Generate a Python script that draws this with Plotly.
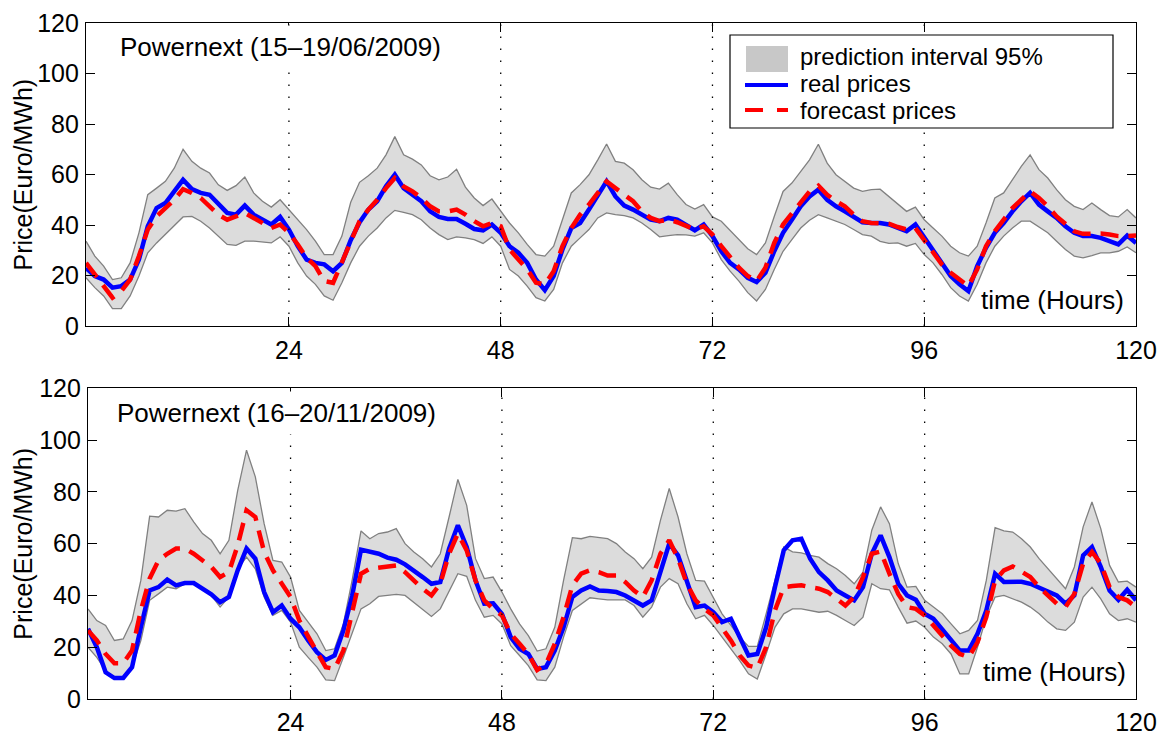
import plotly.graph_objects as go

hours = list(range(1, 121))
x_ticks = [24, 48, 72, 96, 120]
y_ticks = [0, 20, 40, 60, 80, 100, 120]
day_lines = [24, 48, 72, 96]

# ---- Panel 1: Powernext 15-19/06/2009 ----
real_jun = [23, 19.8, 18.4, 15.2, 15.8, 18.4, 26.3, 39.5, 46.7, 48.7, 53.3, 57.9, 54.2, 52.7, 52, 48.7, 44.8, 44.1, 47.7, 44.1,
            41.9, 40.2, 43.2, 38.2, 31.6, 26.3, 25, 24.4, 21.7, 25, 34, 41, 46.1, 49.4, 55.3, 59.9, 54.6, 52, 49.4, 45.4,
            43.2, 42.4, 42.4, 40.5, 38.4, 37.9, 40.2, 36.9, 31.6, 29, 25, 18.4, 14.2, 19.8, 30.3, 38.8, 40.8, 46.1, 51.3, 57.3,
            51.3, 47.7, 46.1, 44.1, 42.1, 41.5, 42.8, 42.1, 40.2, 37.9, 40.2, 35.6, 29.6, 25, 22.4, 19.1, 17.4, 21.1, 29.6, 36.9,
            42.1, 47.4, 51.3, 54, 50, 47.4, 45.4, 43.2, 41.1, 40.8, 40.8, 40.2, 38.8, 37.5, 40.2, 34.9, 29.6, 25, 19.8, 16.5,
            13.8, 23.7, 31, 36.9, 40.8, 45.4, 49.4, 52.7, 48.1, 45.4, 42.8, 39.5, 36.9, 35.6, 35.6, 34.9, 33.6, 32.3, 35.8, 32.9]
fcst_jun = [25, 20.4, 15.2, 11.2, 13.8, 18.4, 27.7, 38.2, 43.4, 46.7, 50, 54.2, 52.7, 50.7, 47.4, 44.1, 42.1, 43.4, 44.8, 42.8,
            40.8, 38.8, 40.2, 36.9, 32.3, 27, 23.7, 17.8, 17.1, 25, 33, 41.5, 46.1, 50, 54.6, 58.6, 55.3, 53.3, 50.7, 47.4,
            45.4, 45.4, 46.1, 44.1, 41.5, 39.5, 40.8, 39.5, 30.3, 26.3, 22.4, 17.1, 16.5, 21.7, 31.6, 38.8, 44.1, 48.1, 52.7, 57.3,
            54.6, 52, 49.4, 45.4, 42.8, 41.5, 42.1, 41.1, 39.5, 38.2, 39.5, 36.2, 31.6, 27, 23.1, 19.8, 17.8, 23.1, 32.9, 40.2,
            44.8, 49.4, 53.3, 55.6, 52, 49.4, 47.4, 44.1, 41.5, 40.8, 40.8, 40.5, 39.2, 38.2, 38.8, 34.2, 29, 24.4, 21.1, 18.4,
            15.8, 22.4, 31.6, 37.5, 42.1, 46.7, 50, 53.3, 50.7, 47.4, 43.4, 40.2, 37.5, 36.5, 36.6, 36.6, 36.2, 35.6, 35.6, 35.8]
upper_jun = [33.6, 27.7, 23.7, 18.4, 19.1, 25, 36.9, 52, 54.6, 57.3, 62.5, 70, 65.2, 62.5, 60.6, 55.9, 53.7, 55.6, 59, 52.7,
             49.4, 47.1, 50, 46.1, 42.1, 38.2, 33.6, 28.3, 28.3, 35.6, 49, 56.9, 59.5, 62.5, 67.8, 75, 67.8, 66.1, 63.8, 59.5,
             57.9, 59, 62.1, 55, 50.7, 47.7, 50.3, 45.4, 40.8, 36.9, 32.3, 28.3, 27.7, 31.6, 42.1, 52.7, 56, 59.9, 65.8, 72.1,
             65.2, 64.5, 61.9, 57.9, 55, 54.2, 56.6, 52, 48.1, 46.3, 48.1, 43.2, 41.5, 37.9, 34.2, 30.6, 28.3, 32.9, 43.4, 53.3,
             56.6, 61.2, 65.8, 72, 64.5, 59.9, 57.3, 54.6, 53.3, 54, 54.2, 51.3, 48.4, 45.4, 47.1, 42.1, 38.8, 35.6, 31.6, 29,
             27.7, 31.6, 40.8, 50.7, 52.7, 57.9, 63.2, 67.8, 61.9, 58.6, 54, 50, 47.4, 46.1, 48.7, 46.1, 43.7, 43.2, 46.1, 42.8]
lower_jun = [19.1, 15.2, 11.9, 6.9, 6.9, 11.9, 19.8, 29, 32.9, 36.2, 39.5, 43.2, 43.4, 41.5, 38.8, 35.6, 32.3, 31.9, 33.6, 33.6,
             33.2, 32.9, 35.3, 31.6, 25, 19.8, 16.5, 11.9, 10.2, 17.1, 25, 31.6, 35.6, 38.8, 42.8, 45.8, 45, 44.1, 42.1, 38.8,
             36.2, 34.2, 35.3, 34.9, 34.2, 32.7, 35.3, 31.6, 22.4, 19.8, 15.8, 11.2, 9.9, 14.5, 25, 31.6, 34.9, 38.2, 42.8, 44.8,
             44.1, 43.7, 42.8, 40.8, 38.2, 35.3, 35.8, 36.2, 36.1, 35.6, 36.9, 32.9, 26.3, 21.7, 17.8, 13.2, 9.9, 14.5, 22.4, 29.6,
             34.2, 38.8, 41.9, 44.1, 42.8, 41.5, 40.2, 38.2, 36.2, 35.6, 33.5, 32.7, 32.9, 31.6, 32.7, 28.3, 25, 20.4, 15.2, 11.9,
             9.9, 16.5, 25, 31.6, 35.6, 38.8, 41.5, 41.5, 39.2, 36.9, 33.6, 30.3, 27.7, 27, 27.9, 29, 29, 29.6, 31.3, 29]

# ---- Panel 2: Powernext 16-20/11/2009 ----
real_nov = [27.1, 20, 10.3, 8.1, 8.1, 12.3, 27.7, 41.9, 43.2, 46.1, 43.9, 44.8, 44.8, 42.6, 40.4, 37.4, 39.4, 49.7, 58.1, 54.2,
            41.3, 33.5, 36.1, 31, 27.7, 22.6, 18.1, 15.1, 16.8, 26.5, 40, 57.7, 56.8, 56.1, 54.6, 53.8, 52, 49.7, 47.1, 44.5,
            45.2, 58.1, 67.1, 58.7, 45.8, 36.8, 37, 32.9, 23.9, 19.4, 17.4, 11.6, 12.3, 18.7, 27.7, 39.4, 41.9, 43.5, 41.9, 41.7,
            41.3, 40, 38.1, 36.1, 38.1, 48.4, 60, 55.5, 45.8, 35.5, 36.1, 33.5, 29.7, 31, 23.9, 16.8, 17.4, 27.7, 43.2, 57.4,
            61.3, 61.9, 54.2, 49, 45.8, 41.9, 40, 38.1, 43.2, 56.1, 63.2, 54.8, 44.5, 40, 38.3, 32.9, 31, 27.1, 22.6, 18.7,
            18.7, 25.2, 34.2, 48.4, 45.2, 45.2, 45.3, 44.5, 43, 41.9, 40, 36.8, 40, 55.5, 58.7, 51, 41.9, 38.3, 42.2, 38.1]
fcst_nov = [26.5, 22.6, 17.4, 13.8, 13.8, 18.7, 34.2, 46.5, 53.5, 56.1, 58.1, 58.1, 56.1, 53.5, 51, 47.1, 49, 59.4, 72.9, 70.3,
            56.8, 49.7, 44.5, 39.4, 30.3, 23.9, 18.1, 12.3, 11.6, 18.7, 32.9, 48.4, 50.3, 50.7, 51.2, 51.6, 49, 45.8, 42.6, 40,
            44.5, 56.1, 63.9, 57.4, 45.8, 38.1, 34.8, 32.3, 25.2, 21.3, 17.4, 11.2, 13.5, 21.3, 31.6, 43.9, 48.4, 49.7, 49, 47.7,
            47.7, 45.2, 41.9, 39.4, 45.8, 56.1, 61.3, 54.2, 44.5, 38.1, 34.8, 32.3, 27.7, 22.6, 16.8, 12.9, 12, 20, 34.2, 43.2,
            43.6, 43.9, 43.2, 42.6, 41.3, 38.7, 36.1, 39.4, 47.1, 56.1, 57, 48.4, 40.6, 35.5, 34.8, 32.3, 28.4, 23.9, 20.6, 17.4,
            16.1, 21.9, 31.6, 45.8, 49.7, 51.2, 49, 47.1, 43.2, 40, 36.8, 35.5, 40.6, 52.3, 56.8, 52.3, 43.2, 39.4, 38.1, 35.5]
upper_nov = [34.8, 30.3, 28.4, 22.6, 23.2, 30.3, 45.8, 70.6, 70.3, 72.9, 72.6, 73.5, 68.4, 63.9, 61.3, 56.1, 61.3, 80.6, 96.1, 85.8,
             67.7, 53.5, 52.9, 47.1, 34.2, 29.7, 25.2, 18.7, 19.4, 29, 46, 64.9, 61.9, 63.9, 64.5, 65.8, 60, 56.8, 54.2, 51,
             56.1, 70.3, 84.8, 74.8, 54.2, 46.5, 47.1, 41.3, 34.8, 29, 24.5, 18.5, 19.4, 27.7, 45.8, 62.3, 61.9, 62.8, 62.3, 61.9,
             60, 56.8, 54.2, 50.3, 54.8, 69, 81.3, 70.3, 56.1, 45.8, 45.5, 39.4, 32.9, 28.4, 23.9, 20.3, 20.3, 32.9, 45.8, 58.7,
             56.8, 56.4, 55.5, 54.8, 52.3, 50.3, 47.7, 44.5, 49, 65.2, 74.2, 67.7, 52.3, 43.2, 43.5, 38.1, 35.5, 32.9, 29, 25.2,
             26.5, 30.3, 45.8, 66.2, 64.9, 64.5, 61.9, 58.7, 54.2, 50.3, 46.5, 42.6, 51, 66.5, 76.1, 65.8, 51.6, 45.2, 45.5, 43.2]
lower_nov = [20, 16.1, 11, 8.1, 8.1, 12.3, 22.6, 38.1, 40.6, 43.2, 42.6, 44.5, 44.5, 42.2, 40, 35.5, 39.4, 50.3, 54.8, 50.3,
             39.4, 32.3, 34.2, 29.7, 20, 16.1, 12.3, 7.4, 7.1, 16.1, 25.2, 34.8, 36.8, 39.6, 40, 40.4, 40, 37.4, 34.8, 31.9,
             34.8, 41.9, 48.4, 47.4, 38.1, 31.6, 32.3, 29, 20.6, 16.8, 12.9, 7.4, 7.1, 12.3, 23.9, 34.2, 36.8, 39.1, 38.7, 38.3,
             38.3, 38.3, 36.1, 31.6, 35.5, 43.2, 46.5, 44.5, 36.8, 31, 32.3, 28.4, 23.9, 19.4, 14.8, 9.7, 7.7, 17.4, 27.7, 32.9,
             34.8, 34.8, 34.2, 33.5, 33.9, 32.3, 30.3, 28.4, 31.6, 44.5, 42.6, 42.2, 35.5, 29.3, 30.1, 27.7, 23.9, 21.3, 17.4, 9.7,
             9.7, 20, 31.6, 39.4, 40, 38.7, 37.4, 35.5, 32.9, 29.7, 27.1, 26.5, 29.7, 39.4, 43.2, 38.7, 32.9, 30.3, 31, 29.7]

titles = ["Powernext (15\u201319/06/2009)", "Powernext (16\u201320/11/2009)"]
legend_labels = ["prediction interval 95%", "real prices", "forecast prices"]
panels = [(lower_jun, upper_jun, real_jun, fcst_jun), (lower_nov, upper_nov, real_nov, fcst_nov)]

FONT = "Liberation Sans, Arial, Helvetica, sans-serif"
BAND_FILL = "rgb(220,220,220)"
BAND_LINE = "rgb(128,128,128)"
BLUE = "rgb(0,0,255)"
RED = "rgb(255,0,0)"
RED_DASH = "18px,10px"

fig = go.Figure()
for i, (lo, up, real, fc) in enumerate(panels):
    xa = "x" if i == 0 else "x2"
    ya = "y" if i == 0 else "y2"
    fig.add_trace(go.Scatter(x=hours, y=lo, xaxis=xa, yaxis=ya, mode="lines",
                             line=dict(color=BAND_LINE, width=1.3), showlegend=False, hoverinfo="skip"))
    fig.add_trace(go.Scatter(x=hours, y=up, xaxis=xa, yaxis=ya, mode="lines", fill="tonexty",
                             fillcolor=BAND_FILL, line=dict(color=BAND_LINE, width=1.3),
                             name=legend_labels[0], showlegend=False))
    fig.add_trace(go.Scatter(x=hours, y=real, xaxis=xa, yaxis=ya, mode="lines",
                             line=dict(color=BLUE, width=4.5), name=legend_labels[1], showlegend=False))
    fig.add_trace(go.Scatter(x=hours, y=fc, xaxis=xa, yaxis=ya, mode="lines",
                             line=dict(color=RED, width=4.5, dash=RED_DASH),
                             name=legend_labels[2], showlegend=False))

W, H = 1160, 733
top_dom_y = [1 - 326 / H, 1 - 23 / H]
bot_dom_y = [1 - 699 / H, 1 - 388.3 / H]
top_dom_x = [86 / W, 1136 / W]
bot_dom_x = [88 / W, 1136 / W]

axis_common = dict(showline=True, linecolor="black", linewidth=1.3, mirror="ticks", ticks="inside",
                   ticklen=9, tickcolor="black", tickwidth=1.2, showgrid=False, zeroline=False,
                   automargin=False, tickfont=dict(family=FONT, size=25, color="black"))

fig.update_layout(
    width=W, height=H,
    margin=dict(l=0, r=0, t=0, b=0, autoexpand=False),
    paper_bgcolor="white", plot_bgcolor="white",
    font=dict(family=FONT, color="black"),
    xaxis=dict(domain=top_dom_x, anchor="y", range=[1, 120], tickvals=x_ticks, ticklabelstandoff=2, **axis_common),
    yaxis=dict(domain=top_dom_y, anchor="x", range=[0, 120], tickvals=y_ticks, ticklabelstandoff=1, **axis_common),
    xaxis2=dict(domain=bot_dom_x, anchor="y2", range=[1, 120], tickvals=x_ticks, ticklabelstandoff=1, **axis_common),
    yaxis2=dict(domain=bot_dom_y, anchor="x2", range=[0, 120], tickvals=y_ticks, ticklabelstandoff=1, **axis_common),
    showlegend=False,
)

shapes = []
for i in range(2):
    xr = "x" if i == 0 else "x2"
    yr = "y domain" if i == 0 else "y2 domain"
    for d in day_lines:
        shapes.append(dict(type="line", xref=xr, yref=yr, x0=d, x1=d, y0=0, y1=1,
                           line=dict(color="black", width=1.3, dash="1.5px,10.5px"), layer="above"))


# legend box (drawn by hand so that rows are spaced like the original)
def px(xp):
    return xp / W


def py(yp):
    return 1 - yp / H


shapes.append(dict(type="rect", xref="paper", yref="paper", x0=px(730), x1=px(1113), y0=py(128), y1=py(35),
                   fillcolor="white", line=dict(color="black", width=1.2), layer="above"))
shapes.append(dict(type="rect", xref="paper", yref="paper", x0=px(746), x1=px(788), y0=py(72), y1=py(46),
                   fillcolor="rgb(200,200,200)", line=dict(width=0), layer="above"))
shapes.append(dict(type="line", xref="paper", yref="paper", x0=px(745), x1=px(788), y0=py(85), y1=py(85),
                   line=dict(color=BLUE, width=4), layer="above"))
shapes.append(dict(type="line", xref="paper", yref="paper", x0=px(745), x1=px(788), y0=py(110), y1=py(110),
                   line=dict(color=RED, width=4, dash="18px,14px"), layer="above"))
fig.update_layout(shapes=shapes)

annotations = []
for lab, yc in zip(legend_labels, [57, 84, 110]):
    annotations.append(dict(text=lab, xref="paper", yref="paper", x=px(799), y=py(yc), xanchor="left",
                            yanchor="middle", showarrow=False, borderpad=0,
                            font=dict(family=FONT, size=24, color="black")))

title_x = [(113 - 86) / 1050, (110 - 88) / 1048]
time_x = [(1126 - 86) / 1050, (1128 - 88) / 1048]
for i, t in enumerate(titles):
    xr = "x domain" if i == 0 else "x2 domain"
    yr = "y domain" if i == 0 else "y2 domain"
    annotations.append(dict(text=t, xref=xr, yref=yr, x=title_x[i], y=0.922, xanchor="left", yanchor="middle",
                            showarrow=False, bgcolor="white", borderpad=6,
                            font=dict(family=FONT, size=26, color="black")))
    annotations.append(dict(text="time (Hours)", xref=xr, yref=yr, x=time_x[i], y=0.087, xanchor="right",
                            yanchor="middle", showarrow=False,
                            font=dict(family=FONT, size=26, color="black")))
    ymid = (top_dom_y[0] + top_dom_y[1]) / 2 if i == 0 else (bot_dom_y[0] + bot_dom_y[1]) / 2
    annotations.append(dict(text="Price(Euro/MWh)", xref="paper", yref="paper", x=23 / W, y=ymid,
                            xanchor="center", yanchor="middle", textangle=-90, showarrow=False,
                            font=dict(family=FONT, size=25, color="black")))
fig.update_layout(annotations=annotations)

# remove the browser's default page margin so the 1160x733 figure fills the window exactly
fig.write_html("out.html", config={"displayModeBar": False},
               post_script="document.body.style.margin='0';document.body.style.overflow='hidden';")
